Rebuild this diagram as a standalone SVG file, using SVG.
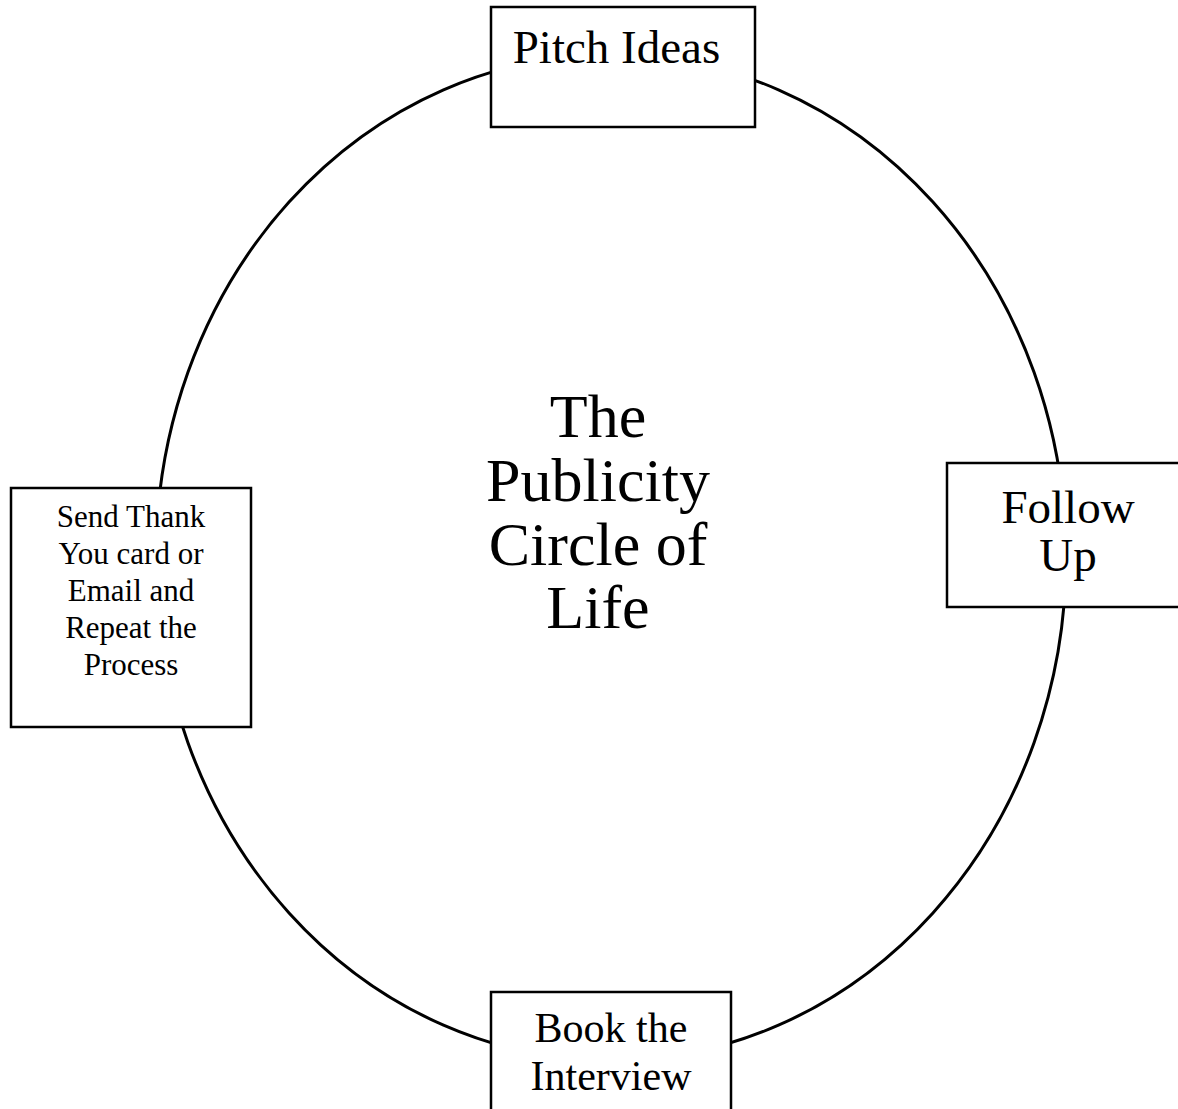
<svg xmlns="http://www.w3.org/2000/svg" width="1178" height="1109" viewBox="0 0 1178 1109">
<style>
.box{fill:#fff;stroke:#000;stroke-width:2.5}
.ring{fill:none;stroke:#000;stroke-width:3}
text{font-family:"Liberation Serif","Times New Roman",serif;fill:#000;text-anchor:middle}
</style>
<rect width="1178" height="1109" fill="#fff"/>
<g id="connectors">
<ellipse class="ring" cx="611" cy="557.5" rx="455" ry="503"/>
</g>
<g id="center-title">
<text x="598" y="437" font-size="62">The</text>
<text x="598" y="501" font-size="62">Publicity</text>
<text x="598" y="565" font-size="62">Circle of</text>
<text x="598" y="628" font-size="62">Life</text>
</g>
<g id="node-pitch">
<rect class="box" x="491" y="7" width="264" height="120"/>
<text x="616.5" y="63" font-size="47">Pitch Ideas</text>
</g>
<g id="node-follow">
<rect class="box" x="947" y="463" width="245" height="144"/>
<text x="1068" y="523" font-size="47">Follow</text>
<text x="1068" y="571" font-size="47">Up</text>
</g>
<g id="node-book">
<rect class="box" x="491" y="992" width="240" height="125"/>
<text x="611" y="1042" font-size="42">Book the</text>
<text x="611" y="1090" font-size="42">Interview</text>
</g>
<g id="node-thanks">
<rect class="box" x="11" y="488" width="240" height="239"/>
<text x="131" y="527" font-size="31">Send Thank</text>
<text x="131" y="564" font-size="31">You card or</text>
<text x="131" y="601" font-size="31">Email and</text>
<text x="131" y="638" font-size="31">Repeat the</text>
<text x="131" y="675" font-size="31">Process</text>
</g>
</svg>
